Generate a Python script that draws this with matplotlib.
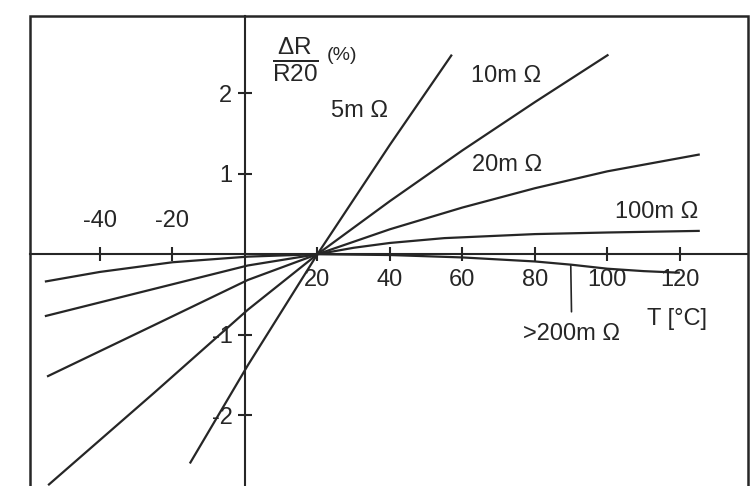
import matplotlib
matplotlib.use("Agg")
import matplotlib.pyplot as plt
from matplotlib.patches import Rectangle

plt.rcParams['font.family'] = ['Liberation Sans', 'DejaVu Sans']
plt.rcParams['axes.unicode_minus'] = False
plt.rcParams['mathtext.fontset'] = 'custom'
plt.rcParams['mathtext.rm'] = 'Liberation Sans'

# values: temperature (degC) vs dR/R20 (%)
t_5m = [-15.2, 0.8, 20, 40, 57.1]
r_5m = [-2.60, -1.38, 0.0, 1.36, 2.48]

t_10m = [-54.3, -25, 0.8, 20, 40, 60, 80, 100.3]
r_10m = [-2.87, -1.72, -0.69, 0.0, 0.66, 1.29, 1.89, 2.48]

t_20m = [-54.6, -25, 0.8, 20, 40, 60, 80, 100, 125.5]
r_20m = [-1.52, -0.88, -0.32, 0.0, 0.31, 0.58, 0.82, 1.03, 1.24]

t_100m = [-55.2, -25, 0.8, 20, 30, 40, 55, 80, 100, 125.5]
r_100m = [-0.77, -0.43, -0.14, 0.0, 0.08, 0.14, 0.20, 0.25, 0.27, 0.29]

t_200m = [-55.2, -40, -20, 0.8, 20, 40, 60, 80, 90, 100, 110, 120]
r_200m = [-0.34, -0.22, -0.10, -0.03, 0.0, -0.01, -0.04, -0.09, -0.13, -0.18, -0.21, -0.23]

x_ticks = [-40, -20, 20, 40, 60, 80, 100, 120]
y_ticks = [-2, -1, 1, 2]

ink = '#262626'

fig = plt.figure(figsize=(7.55, 4.86), dpi=100)
ax = fig.add_axes([30 / 755, 0, 718 / 755, 470 / 486])
ax.set_xlim(-59.3, 138.8)
ax.set_ylim(-2.88, 2.96)

for t, r in [(t_5m, r_5m), (t_10m, r_10m), (t_20m, r_20m),
             (t_100m, r_100m), (t_200m, r_200m)]:
    ax.plot(t, r, color=ink, lw=1.6, solid_capstyle='butt')

# axes cross at the origin, outer box drawn as a frame
ax.spines['left'].set_position(('data', 0))
ax.spines['bottom'].set_position(('data', 0))
ax.spines['top'].set_position(('data', 0))
ax.spines['top'].set_visible(False)
ax.spines['right'].set_visible(False)
for s in ['left', 'bottom']:
    ax.spines[s].set_color(ink)
    ax.spines[s].set_linewidth(1.5)
ax.add_patch(Rectangle((0, -0.1), 1, 1.1, transform=ax.transAxes, fill=False,
                       lw=1.8, edgecolor=ink, clip_on=False))

ax.set_xticks(x_ticks, [str(v) for v in x_ticks])
ax.set_yticks(y_ticks, [str(v) for v in y_ticks])
ax.tick_params(direction='inout', length=10, width=1.5, color=ink,
               labelsize=17, labelcolor=ink)
ax.tick_params(axis='x', top=False, labeltop=True)
ax.tick_params(axis='y', pad=4)
for tick, v in zip(ax.xaxis.get_major_ticks(), x_ticks):
    if v < 0:
        tick.label1.set_visible(False)
        tick.set_pad(11)
    else:
        tick.label2.set_visible(False)
        tick.set_pad(6)

# axis titles and curve labels
ax.text(14.0, 2.42, r'$\frac{\mathrm{\Delta R}}{\mathrm{R20}}$', fontsize=25,
        color=ink, ha='center', va='center')
ax.text(26.8, 2.47, '(%)', fontsize=14, color=ink, ha='center', va='center')
ax.text(119.2, -0.81, 'T [°C]', fontsize=17, color=ink, ha='center', va='center')

ax.text(31.7, 1.78, '5m Ω', fontsize=17, color=ink, ha='center', va='center')
ax.text(72.0, 2.21, '10m Ω', fontsize=17, color=ink, ha='center', va='center')
ax.text(72.3, 1.11, '20m Ω', fontsize=17, color=ink, ha='center', va='center')
ax.text(113.7, 0.52, '100m Ω', fontsize=17, color=ink, ha='center', va='center')
ax.annotate('>200m Ω', xy=(89.9, -0.14), xytext=(90.2, -0.99), fontsize=17,
            color=ink, ha='center', va='center',
            arrowprops=dict(arrowstyle='-', color=ink, lw=1.2, shrinkA=6, shrinkB=0))

fig.savefig('out.png', dpi=100)
